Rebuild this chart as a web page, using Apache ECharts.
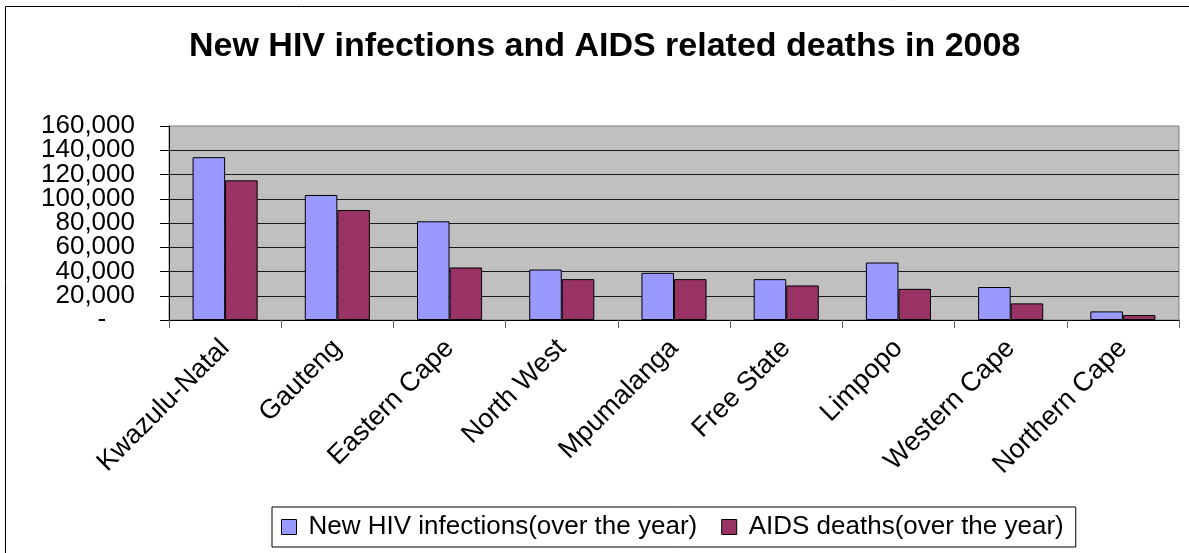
<!DOCTYPE html>
<html>
<head>
<meta charset="utf-8">
<script src="https://cdn.jsdelivr.net/npm/echarts@6/dist/echarts.min.js"></script>
<style>
  html, body { margin: 0; padding: 0; background: #fff; }
  #chart { width: 1189px; height: 553px; }
</style>
</head>
<body>
<div id="chart"></div>
<script>
const titleText = 'New HIV infections and AIDS related deaths in 2008';
const categories = ['Kwazulu-Natal', 'Gauteng', 'Eastern Cape', 'North West', 'Mpumalanga', 'Free State', 'Limpopo', 'Western Cape', 'Northern Cape'];
const seriesNames = ['New HIV infections(over the year)', 'AIDS deaths(over the year)'];
const newInfections = [134300, 103100, 81400, 41600, 38900, 33700, 47400, 27200, 7100];
const aidsDeaths = [115200, 90700, 43300, 33700, 33700, 28500, 25700, 13700, 4100];
const yTicks = { min: 0, max: 160000, interval: 20000 };

const FONT = 'Liberation Sans, Arial, sans-serif';
const colors = ['#9999FF', '#993366'];

const chart = echarts.init(document.getElementById('chart'), null, { renderer: 'canvas' });

function fmtY(v) {
  if (v === 0) return '-    ';
  return v.toString().replace(/\B(?=(\d{3})+(?!\d))/g, ',');
}
// labels split across two overlapping axes so none are auto-hidden
function fmtEven(v) { return (Math.round(v / yTicks.interval) % 2 === 0) ? fmtY(v) : ''; }
function fmtOdd(v) { return (Math.round(v / yTicks.interval) % 2 === 1) ? fmtY(v) : ''; }

const labelStyle = {
  margin: 34, fontFamily: FONT, fontSize: 26, color: '#000',
  showMinLabel: true, showMaxLabel: true, hideOverlap: false
};

chart.setOption({
  animation: false,
  backgroundColor: '#ffffff',
  graphic: [{
    type: 'rect',
    shape: { x: 5.5, y: 6.5, width: 1300, height: 700 },
    style: { fill: 'none', stroke: '#000', lineWidth: 1 },
    silent: true
  }],
  title: {
    text: titleText,
    left: 189,
    top: 30,
    padding: 0,
    textStyle: { fontFamily: FONT, fontSize: 34, fontWeight: 'bold', color: '#000' }
  },
  legend: {
    data: seriesNames.map((n, i) => ({ name: n, itemStyle: { color: colors[i], borderColor: '#000', borderWidth: 1 } })),
    left: 272,
    top: 507,
    orient: 'horizontal',
    icon: 'rect',
    itemWidth: 15,
    itemHeight: 15,
    itemGap: 24,
    padding: [7, 12, 7, 9],
    borderColor: '#000',
    borderWidth: 1,
    backgroundColor: '#fff',
    textStyle: { fontFamily: FONT, fontSize: 26, color: '#000', padding: [0, 0, 0, 7] }
  },
  grid: {
    left: 169, right: 10, top: 126, bottom: 233,
    show: true,
    backgroundColor: '#C0C0C0',
    borderColor: '#808080',
    borderWidth: 1
  },
  xAxis: {
    type: 'category',
    data: categories,
    boundaryGap: true,
    axisLine: { show: true, lineStyle: { color: '#000', width: 1 } },
    axisTick: { show: true, alignWithLabel: false, length: 8, lineStyle: { color: '#666' } },
    axisLabel: {
      interval: 0, rotate: 45, margin: 24,
      fontFamily: FONT, fontSize: 27, color: '#000'
    },
    splitLine: { show: false }
  },
  yAxis: [
    {
      type: 'value', position: 'left',
      min: yTicks.min, max: yTicks.max, interval: yTicks.interval,
      axisLine: { show: true, lineStyle: { color: '#000', width: 1 } },
      axisTick: { show: true, length: 9, lineStyle: { color: '#000' } },
      axisLabel: Object.assign({}, labelStyle, { formatter: fmtEven }),
      splitLine: { show: true, showMaxLine: false, lineStyle: { color: '#1a1a1a', width: 1 } }
    },
    {
      type: 'value', position: 'left', offset: 0,
      min: yTicks.min, max: yTicks.max, interval: yTicks.interval,
      axisLine: { show: false },
      axisTick: { show: false },
      axisLabel: Object.assign({}, labelStyle, { formatter: fmtOdd }),
      splitLine: { show: false }
    }
  ],
  series: [
    {
      name: seriesNames[0], type: 'bar', data: newInfections, yAxisIndex: 0,
      barWidth: '29%', barGap: '0%',
      itemStyle: { color: colors[0], borderColor: '#000', borderWidth: 1 }
    },
    {
      name: seriesNames[1], type: 'bar', data: aidsDeaths, yAxisIndex: 0,
      barWidth: '29%', barGap: '0%',
      itemStyle: { color: colors[1], borderColor: '#000', borderWidth: 1 }
    }
  ]
});
</script>
</body>
</html>
